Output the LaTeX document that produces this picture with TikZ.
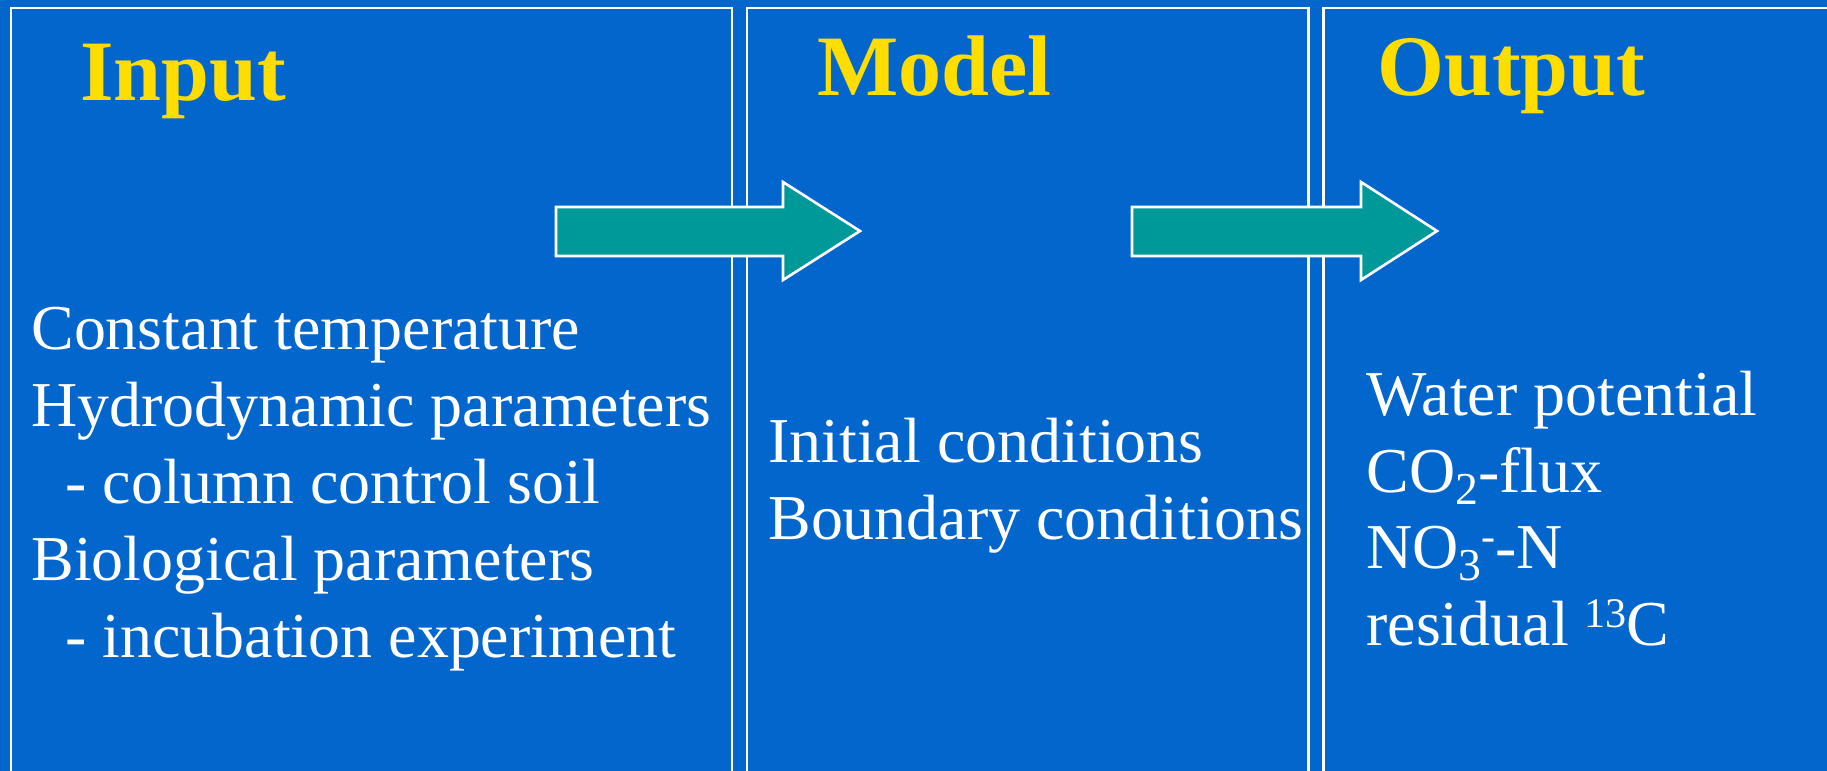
\documentclass[tikz,border=0pt]{standalone}
\usepackage{fontspec}
\setmainfont{Liberation Serif}
\definecolor{slideblue}{RGB}{3,102,204}
\definecolor{titleyellow}{RGB}{255,221,0}
\definecolor{arrowteal}{RGB}{0,153,153}
\newcommand{\subidx}[1]{\raisebox{-7pt}{\fontsize{26}{26}\selectfont #1}}
\newcommand{\supidx}[1]{\raisebox{10pt}{\fontsize{24}{24}\selectfont #1}}
\begin{document}
\begin{tikzpicture}[x=0.02cm, y=-0.02cm,
	panel/.style={draw=white, line width=1.7pt, fill=slideblue},
	flow/.style={draw=white, line width=1.5pt, fill=arrowteal},
	heading/.style={anchor=base west, inner sep=0pt, text=titleyellow, font=\fontsize{49}{58}\selectfont\bfseries},
	entry/.style={anchor=base west, inner sep=0pt, text=white, font=\fontsize{36.4}{44}\selectfont}]
	\fill[slideblue] (0,0) rectangle (1827,771);
	\useasboundingbox (0,0) rectangle (1827,771);
	\clip (0,0) rectangle (1827,771);
	
	% three panels
	\draw[panel] (11,8) rectangle (732,800);
	\draw[panel] (747,8) rectangle (1308,800);
	\draw[panel] (1323,8) rectangle (1850,800);
	
	\node[heading] (input) at (80,100){Input};
	\node[heading] (model) at (817,95){Model};
	\node[heading] (output) at (1377,95){Output};
	
	\node[entry] (temp) at (31,349){Constant temperature};
	\node[entry] (hydro) at (31,426){Hydrodynamic parameters};
	\node[entry] (column) at (65,503){- column control soil};
	\node[entry] (bio) at (31,580){Biological parameters};
	\node[entry] (incub) at (65,657){- incubation experiment};
	
	\node[entry] (initial) at (768,462){Initial conditions};
	\node[entry] (boundary) at (768,539){Boundary conditions};
	
	\node[entry] (water) at (1366,415){Water potential};
	\node[entry] (co2) at (1366,492){CO\subidx{2}-flux};
	\node[entry] (no3) at (1366,568){NO\subidx{3}\supidx{-}-N};
	\node[entry] (c13) at (1366,645){residual \supidx{13}C};
	
	% block arrows between the panels
	\draw[flow] (556,207) -- (783,207) -- (783,182) -- (860,231) -- (783,280) -- (783,256) -- (556,256) -- cycle;
	\draw[flow] (1132,207) -- (1361,207) -- (1361,182) -- (1437,231) -- (1361,280) -- (1361,256) -- (1132,256) -- cycle;
\end{tikzpicture}
\end{document}
